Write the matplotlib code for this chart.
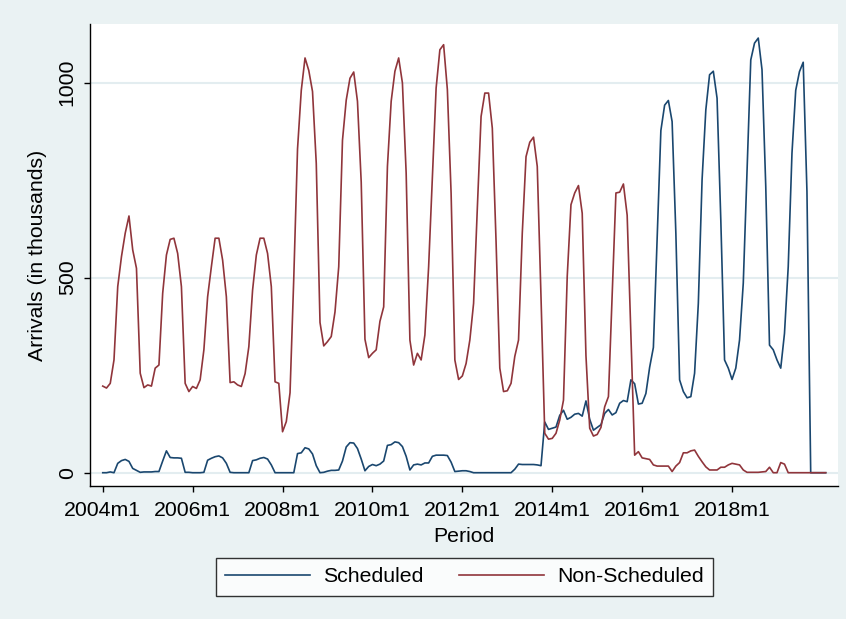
import numpy as np
import matplotlib
matplotlib.use("Agg")
import matplotlib.pyplot as plt

plt.rcParams['font.family'] = ['Liberation Sans', 'DejaVu Sans']

# monthly arrivals (thousands), 2004m1 onwards
scheduled = [
    0, 0, 2, 0, 24, 31, 34, 29, 11, 6, 1, 2,
    2, 2, 3, 3, 30, 56, 39, 38, 38, 37, 1, 1,
    0, 0, 0, 1, 32, 37, 41, 43, 38, 24, 1, 0,
    0, 0, 0, 0, 31, 33, 37, 39, 35, 20, 0, 0,
    0, 0, 0, 0, 49, 51, 64, 61, 48, 18, 0, 1,
    4, 6, 6, 7, 30, 66, 77, 76, 62, 35, 5, 16,
    21, 18, 22, 30, 70, 72, 79, 77, 67, 42, 7, 20,
    22, 20, 25, 25, 42, 45, 45, 45, 44, 27, 3, 4,
    5, 5, 3, 0, 0, 0, 0, 0, 0, 0, 0, 0,
    0, 0, 9, 22, 21, 21, 21, 21, 20, 18, 130, 111,
    114, 117, 147, 160, 137, 142, 150, 152, 145, 184, 137, 109,
    116, 123, 152, 162, 148, 154, 178, 185, 182, 238, 228, 176,
    178, 203, 270, 321, 600, 877, 942, 954, 900, 614, 238, 208,
    192, 195, 255, 434, 751, 930, 1020, 1029, 960, 648, 289, 268,
    239, 268, 340, 486, 776, 1058, 1101, 1114, 1033, 734, 327, 315,
    289, 268, 357, 528, 819, 980, 1028, 1052, 720, 0, 0, 0,
    0, 0,
]
non_scheduled = [
    222, 217, 229, 289, 477, 554, 614, 658, 571, 524, 255, 218,
    225, 222, 268, 276, 460, 558, 598, 601, 562, 477, 229, 208,
    221, 216, 238, 315, 451, 528, 601, 601, 545, 451, 231, 233,
    225, 221, 254, 323, 468, 558, 601, 601, 562, 477, 233, 229,
    105, 131, 205, 500, 830, 980, 1063, 1031, 977, 793, 385, 325,
    336, 349, 412, 528, 852, 955, 1011, 1027, 952, 745, 342, 295,
    306, 315, 388, 425, 785, 952, 1029, 1063, 999, 768, 340, 276,
    306, 289, 353, 528, 759, 986, 1084, 1097, 982, 716, 289, 239,
    248, 280, 340, 434, 678, 913, 973, 973, 883, 593, 268, 208,
    210, 229, 298, 340, 614, 810, 847, 860, 785, 450, 101, 86,
    88, 101, 135, 186, 503, 687, 717, 736, 665, 300, 114, 94,
    98, 116, 169, 195, 455, 717, 719, 740, 660, 350, 45, 54,
    38, 36, 34, 20, 17, 17, 17, 17, 3, 17, 26, 51,
    51, 56, 58, 42, 28, 15, 7, 7, 7, 14, 14, 20,
    24, 22, 20, 7, 1, 1, 1, 1, 2, 3, 14, 0,
    0, 26, 22, 0, 0, 0, 0, 0, 0, 0, 0, 0,
    0, 0,
]
start_year = 2004
tick_years = list(range(2004, 2019, 2))
y_ticks = [0, 500, 1000]

months = np.arange(len(scheduled))
tick_pos = [(y - start_year) * 12 for y in tick_years]
tick_labels = [f"{y}m1" for y in tick_years]

bg = '#EAF2F3'
fig = plt.figure(figsize=(8.46, 6.19), dpi=100, facecolor=bg)
ax = fig.add_axes([0.1064, 0.2149, 0.8842, 0.7463])
ax.set_facecolor('white')

l1, = ax.plot(months, scheduled, color='#1A476F', lw=1.2, label='Scheduled')
l2, = ax.plot(months, non_scheduled, color='#90353B', lw=1.2, label='Non-Scheduled')

ax.set_xlim(-3.4, 196.3)
ax.set_ylim(-34, 1150)
ax.set_xticks(tick_pos)
ax.set_xticklabels(tick_labels)
ax.set_yticks(y_ticks)
ax.set_yticklabels([str(v) for v in y_ticks], rotation=90, va='center')
ax.grid(axis='y', color='#E3EDF0', lw=1.5, zorder=0)
ax.set_axisbelow(True)

for s in ['top', 'right']:
    ax.spines[s].set_visible(False)
for s in ['left', 'bottom']:
    ax.spines[s].set_color('black')
    ax.spines[s].set_linewidth(1.0)
ax.tick_params(axis='both', direction='out', length=4.5, width=1.0,
               labelsize=15.3, colors='black')
ax.tick_params(axis='x', pad=6)
ax.tick_params(axis='y', pad=5)

ax.set_xlabel('Period', fontsize=15.3, labelpad=5)
ax.set_ylabel('Arrivals (in thousands)', fontsize=15.3, labelpad=8)

leg = fig.legend(handles=[l1, l2], loc='center', bbox_to_anchor=(0.549, 0.068),
                 ncol=2, fontsize=15.3, frameon=True, fancybox=False,
                 handlelength=4, handletextpad=0.6, columnspacing=1.7,
                 borderpad=0.45)
leg.get_frame().set_edgecolor('black')
leg.get_frame().set_linewidth(1.0)
leg.get_frame().set_facecolor('white')

fig.savefig('out.png', dpi=100, facecolor=bg)
